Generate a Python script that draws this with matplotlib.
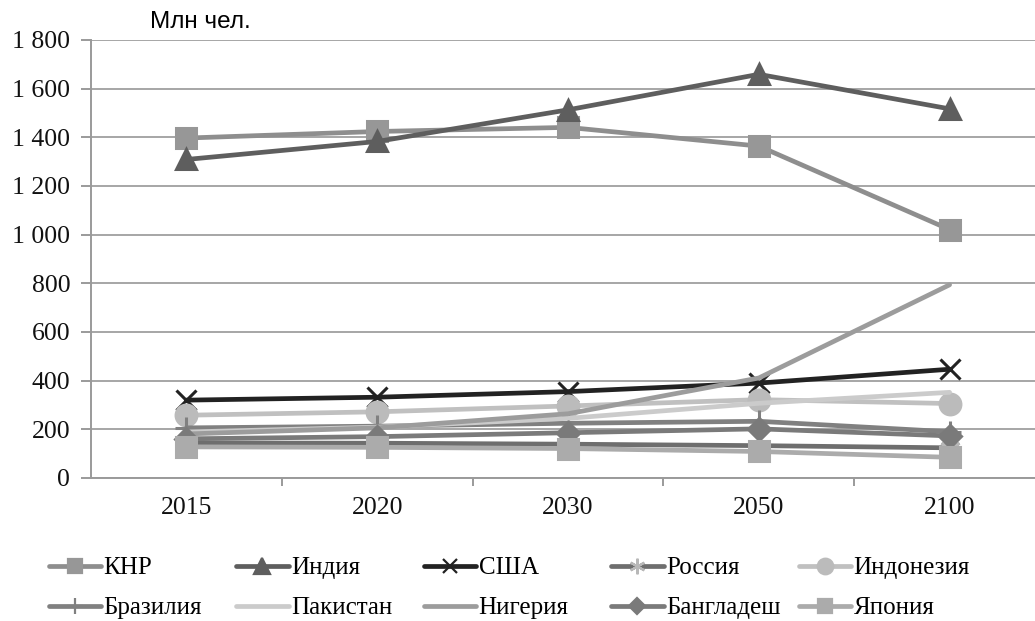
import matplotlib.pyplot as plt
import numpy as np
from matplotlib.lines import Line2D
from matplotlib.ticker import FuncFormatter, MultipleLocator, FixedLocator

# годы прогноза
years = ['2015', '2020', '2030', '2050', '2100']

# численность населения, млн чел.
china = [1397, 1424, 1441, 1364, 1021]
india = [1309, 1383, 1513, 1659, 1517]
usa = [320, 332, 355, 390, 447]
russia = [144, 143, 139, 133, 124]
indonesia = [258, 272, 296, 322, 306]
brazil = [206, 213, 225, 233, 190]
pakistan = [189, 209, 245, 307, 352]
nigeria = [181, 206, 264, 411, 794]
bangladesh = [161, 170, 186, 202, 173]
japan = [128, 126, 121, 109, 85]

names = ['КНР', 'Индия', 'США', 'Россия', 'Индонезия',
         'Бразилия', 'Пакистан', 'Нигерия', 'Бангладеш', 'Япония']
series = [china, india, usa, russia, indonesia,
          brazil, pakistan, nigeria, bangladesh, japan]

# стиль линий: цвет, маркер, размер маркера, цвет маркера
styles = [
    ('#8e8e8e', 's', 14, '#979797'),
    ('#5e5e5e', '^', 15, '#5e5e5e'),
    ('#222222', 'x', 14, '#222222'),
    ('#6e6e6e', (6, 2, 0), 15, '#b8b8b8'),
    ('#c0c0c0', 'o', 15, '#bbbbbb'),
    ('#808080', '+', 16, '#808080'),
    ('#cbcbcb', None, 0, '#cbcbcb'),
    ('#9c9c9c', None, 0, '#9c9c9c'),
    ('#7a7a7a', 'D', 11, '#7a7a7a'),
    ('#ababab', 's', 14, '#ababab'),
]

serif = ['Liberation Serif', 'DejaVu Serif']

fig = plt.figure(figsize=(10.35, 6.21), dpi=100)
ax = fig.add_axes([91 / 1035, 1 - 478 / 621, 954 / 1035, 438 / 621])

x = np.arange(len(years))
for i, (vals, (c, m, ms, mc)) in enumerate(zip(series, styles)):
    ax.plot(x, vals, color=c, lw=3.4, marker=m, markersize=ms,
            markerfacecolor=mc, markeredgecolor=mc, markeredgewidth=2.2,
            zorder=3 + i, solid_capstyle='round')

ax.set_xlim(-0.5, 4.5)
ax.set_ylim(0, 1800)
ax.yaxis.set_major_locator(MultipleLocator(200))
ax.yaxis.set_major_formatter(FuncFormatter(lambda v, p: f'{int(v):,}'.replace(',', ' ')))
ax.set_xticks(x)
ax.set_xticklabels(years)
ax.xaxis.set_minor_locator(FixedLocator(np.arange(0.5, 4.5, 1)))

ax.grid(axis='y', color='#a6a6a6', lw=1.4)
ax.set_axisbelow(True)
for s in ['top', 'right']:
    ax.spines[s].set_visible(False)
for s in ['left', 'bottom']:
    ax.spines[s].set_color('#9a9a9a')
    ax.spines[s].set_linewidth(1.4)

ax.tick_params(axis='y', length=7, width=1.4, color='#9a9a9a', pad=8)
ax.tick_params(axis='x', which='major', length=0, pad=14)
ax.tick_params(axis='x', which='minor', length=6, width=1.4, color='#9a9a9a')
for lab in ax.get_xticklabels() + ax.get_yticklabels():
    lab.set_family(serif)
    lab.set_fontsize(18.5)
    lab.set_color('#111111')

fig.text(150 / 1035, 1 - 22 / 621, 'Млн чел.', family=['Liberation Sans', 'DejaVu Sans'],
         fontsize=17.5, va='center', ha='left')

# легенда: 2 ряда по 5 элементов с равным шагом
for i, (name, (c, m, ms, mc)) in enumerate(zip(names, styles)):
    row, col = divmod(i, 5)
    h = Line2D([], [], color=c, lw=3.4, marker=m, markersize=ms * 0.75,
               markerfacecolor=mc, markeredgecolor=mc, markeredgewidth=1.6,
               solid_capstyle='round')
    xl = (36 + 187.5 * col) / 1035
    yl = 1 - (568 + 40 * row) / 621
    fig.legend(handles=[h], labels=[name], loc='center left',
               bbox_to_anchor=(xl, yl), frameon=False,
               handlelength=2.1, handletextpad=0.1, borderpad=0,
               prop={'family': serif, 'size': 18})

fig.savefig('out.png', dpi=100)
